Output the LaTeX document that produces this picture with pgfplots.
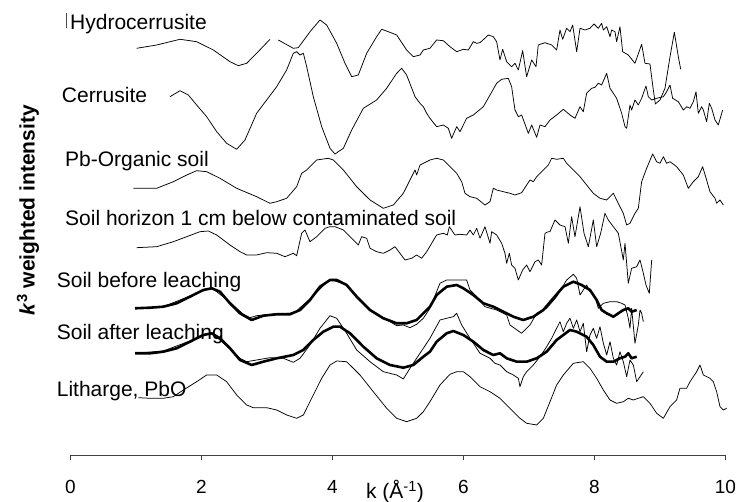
\documentclass[border=0pt]{standalone}
\usepackage{fontspec}
\setmainfont{Liberation Sans}
\usepackage{pgfplots}
\pgfplotsset{compat=1.18}
\begin{document}
\begin{tikzpicture}
\begin{axis}[
  scale only axis, width=655pt, height=455pt,
  xmin=0, xmax=10, ymin=0, ymax=455,
  axis x line=bottom, axis y line=left,
  axis line style={-, line width=0.8pt, black!75},
  y axis line style={draw=none},
  xtick={0,2,4,6,8,10}, ytick=\empty,
  tick align=outside, major tick length=5pt,
  tick style={line width=0.8pt, black!75},
  /pgf/number format/assume math mode=true,
  xticklabel style={font=\fontsize{19}{19}\selectfont, inner sep=0pt, anchor=north, yshift=-20pt},
  xlabel={k (Å\textsuperscript{-1})},
  xlabel style={font=\fontsize{21}{21}\selectfont, at={(axis description cs:0.4954,0)}, anchor=center, yshift=-37pt, inner sep=0pt},
  ylabel={\textbf{\textit{k}\textsuperscript{3} weighted intensity}},
  ylabel style={font=\fontsize{21}{21}\selectfont, at={(axis description cs:0,0.538)}, anchor=center, yshift=42.5pt, inner sep=0pt},
  clip=false,
  cycle list={{black, line width=0.75pt, line join=round, mark=none}},
  thn/.style={black, line width=0.75pt, line join=round, mark=none},
  thk/.style={black, line width=2.6pt, line join=round, mark=none},
]
% Hydrocerrusite
\addplot[thn] coordinates {(1.010,406.7) (1.316,410) (1.672,415.7) (1.926,413.3) (2.181,405) (2.435,393.3) (2.562,389.3) (2.690,391.7) (2.842,401.7) (3.046,415.7)};
\addplot[thn] coordinates {(3.173,415) (3.402,406.7) (3.478,407.3) (3.657,423.3) (3.809,435) (3.911,430) (4.064,411.7) (4.191,391.7) (4.293,378.3) (4.394,380) (4.522,401.7) (4.674,418.3) (4.751,425.7) (4.852,423.3) (4.980,420) (5.132,405) (5.234,398.3) (5.336,400) (5.387,405) (5.488,406.7)
 (5.590,415) (5.692,414.3) (5.794,408.3) (5.896,403.3) (5.997,405.7) (6.074,405) (6.150,413.3) (6.201,411.7) (6.252,412.3) (6.379,420) (6.455,418.3) (6.506,413.3) (6.557,395) (6.598,405.7) (6.659,393.3) (6.735,388.3) (6.786,391.7) (6.837,385) (6.903,404.3) (6.964,378.3) (7.041,395) (7.107,388.3) (7.142,410) (7.244,412.3) (7.346,410) (7.422,405) (7.473,425) (7.514,415.7) (7.575,426.7) (7.626,423.3) (7.667,430) (7.728,403.3) (7.779,426.7) (7.855,425) (7.931,426.7) (7.992,431) (8.033,428.3) (8.058,426.7) (8.109,431.7) (8.135,425) (8.186,428.3) (8.237,418.3) (8.262,425) (8.313,423.3) (8.338,413.3) (8.389,428.3) (8.430,403.3) (8.516,400) (8.618,391.7) (8.720,410.7) (8.771,391.7) (8.847,391) (8.888,370) (8.929,351) (9.000,355) (9.076,366.7) (9.153,398.3) (9.219,422.7) (9.280,398.3) (9.316,385.7)};
% Cerrusite
\addplot[thn] coordinates {(1.519,358.3) (1.672,364.3) (1.799,360) (1.926,350) (2.079,338.3) (2.232,323.3) (2.384,311.7) (2.537,305.7) (2.664,315) (2.842,341.7) (2.995,355) (3.148,368.3) (3.300,385) (3.402,401.7) (3.453,403.3) (3.504,400) (3.555,401.7) (3.606,388.3) (3.707,358.3) (3.835,328.3) (3.962,306.7) (4.038,301) (4.166,306.7) (4.293,325) (4.471,346.7) (4.674,355) (4.827,366.7) (4.980,381.7) (5.056,386.7) (5.132,380) (5.260,358.3) (5.336,351.7) (5.387,348.3) (5.438,341.7) (5.488,336.7)
 (5.590,328.3) (5.692,330) (5.768,326.7) (5.819,316.7) (5.896,328.3) (5.947,323.3) (6.048,336.7) (6.150,340) (6.303,348.3) (6.405,360) (6.506,371.7) (6.583,375.7) (6.684,376.7) (6.735,368.3) (6.786,345) (6.837,338.3) (6.888,340) (6.990,321.7) (7.041,330) (7.117,317.7) (7.168,330) (7.244,328.3) (7.321,335) (7.422,340) (7.524,345.7) (7.626,340) (7.702,336.7) (7.779,348.3) (7.829,343.3) (7.880,361.7) (7.957,366.7) (8.008,367.7) (8.058,371.7) (8.109,370) (8.186,381.7) (8.237,366.7) (8.338,356.7) (8.415,341.7) (8.466,328.3) (8.491,326.7) (8.542,350) (8.567,345) (8.618,355) (8.669,350) (8.720,356.7) (8.786,369) (8.822,358.3) (8.873,355) (8.949,356.7) (9.051,358.3) (9.102,363.3) (9.153,370) (9.193,356.7) (9.280,353.3) (9.356,345) (9.407,348.3) (9.458,346.7) (9.509,353.3) (9.550,363.3) (9.585,341.7) (9.636,348.3) (9.662,345) (9.712,333.3) (9.753,351.7) (9.789,346.7) (9.840,335) (9.890,330) (9.957,345)};
% Pb-Organic soil
\addplot[thn] coordinates {(0.959,266.7) (1.316,266.7) (1.570,273.3) (1.774,280) (1.926,284.3) (2.079,283.3) (2.282,276.7) (2.537,266.7) (2.842,258.3) (3.046,251.7) (3.148,253.3) (3.300,256.7) (3.453,268.3) (3.529,281.7) (3.606,285) (3.758,295) (3.936,296.7) (4.013,295) (4.166,285) (4.369,268.3) (4.573,255) (4.776,246.7) (4.929,250) (5.081,261.7) (5.209,278.3) (5.260,285) (5.285,280) (5.336,290) (5.438,293.3) (5.488,295)
 (5.590,296.7) (5.692,295) (5.794,288.3) (5.896,281.7) (5.972,273.3) (6.023,261.7) (6.099,258.3) (6.201,256.7) (6.328,250) (6.405,253.3) (6.455,266.7) (6.506,265) (6.608,263.3) (6.710,261.7) (6.786,260) (6.888,262.3) (6.964,270) (7.015,275) (7.066,273.3) (7.117,278.3) (7.219,285) (7.295,290) (7.346,296.7) (7.422,295.7) (7.524,296.7) (7.575,291.7) (7.677,285) (7.779,278.3) (7.880,270) (7.982,261.7) (8.084,256.7) (8.186,255) (8.288,261.7) (8.338,255) (8.389,248.3) (8.440,241.7) (8.491,230) (8.542,231.7) (8.618,241.7) (8.669,246.7) (8.720,273.3) (8.796,286.7) (8.888,301) (8.949,293.3) (9.000,291.7) (9.051,298.3) (9.102,291.7) (9.153,293.3) (9.254,288.3) (9.356,280) (9.432,266.7) (9.509,273.3) (9.585,278.3) (9.651,288.3) (9.712,275) (9.763,263.3) (9.840,256.7) (9.865,251.7) (9.916,255) (9.967,250)};
% Soil horizon 1 cm below
\addplot[thn] coordinates {(1.010,207.3) (1.316,208.3) (1.570,213.3) (1.774,218.3) (1.977,223.3) (2.104,224) (2.232,220) (2.435,210) (2.588,203.3) (2.690,200) (2.842,200) (2.995,202.3) (3.148,201.7) (3.275,198.3) (3.402,201.7) (3.453,199.3) (3.529,221.7) (3.580,225) (3.656,213.3) (3.758,218.3) (3.886,226.7) (3.962,228.3) (4.038,228.3) (4.166,225) (4.242,220) (4.318,215) (4.394,210) (4.445,218.3) (4.522,216.7) (4.573,206.7) (4.674,203.3) (4.776,201.7) (4.878,205) (4.954,208.3) (5.030,201.7) (5.107,195) (5.209,196.7) (5.285,200) (5.361,196.7) (5.438,203.3) (5.514,211.7) (5.590,220) (5.692,221.7) (5.753,220) (5.784,228.3) (5.835,223.3) (5.870,220) (5.946,220.7) (6.048,220) (6.099,225) (6.150,220) (6.201,226.7) (6.252,216.7) (6.328,228.3) (6.405,211.7) (6.430,223.3) (6.506,220) (6.583,211.7) (6.633,201.7) (6.659,191.7) (6.700,201.7) (6.735,190) (6.786,186.7) (6.837,175) (6.903,185) (6.964,190) (7.015,183.3) (7.092,193.3) (7.142,195) (7.193,190) (7.244,221.7) (7.295,223.3) (7.320,223.3) (7.397,235) (7.473,230) (7.550,228.3) (7.601,211.7) (7.651,238.3) (7.702,218.3) (7.779,248.3) (7.840,221.7) (7.906,208.3) (7.982,235) (8.033,208.3) (8.094,221.7) (8.160,241.7) (8.211,235) (8.288,228.3) (8.364,221.7) (8.440,195) (8.466,211.7) (8.516,171.7) (8.567,186.7) (8.644,188.3) (8.695,195) (8.746,181.7) (8.786,170) (8.837,161.7) (8.873,195)};
% Soil before leaching: data (thin)
\addplot[thn] coordinates {(0.985,146.7) (1.417,148.3) (1.824,159) (2.155,167.3) (2.435,152.7) (2.639,140.7) (2.741,137.3) (2.842,139.3) (3.148,141.3) (3.351,141.7) (3.453,144) (3.504,147.3) (3.656,156) (3.962,175.7) (4.216,170) (4.573,145) (4.878,133.3) (4.980,129.3) (5.081,130) (5.183,127.3) (5.285,130.7) (5.387,136.7) (5.488,146.7) (5.641,171.7) (5.743,175) (5.896,175) (6.048,175) (6.099,165) (6.201,158.3) (6.328,148.3) (6.506,145) (6.659,140) (6.710,130) (6.888,121.7) (7.015,130) (7.117,141.7) (7.270,146.7) (7.422,158.3) (7.575,175) (7.677,180.7) (7.728,176.7) (7.779,160) (7.829,165) (7.880,170) (7.931,163.3) (8.008,158.3) (8.058,146.7) (8.135,151.7) (8.237,153.3) (8.338,153.3) (8.415,151.7) (8.466,150) (8.516,136.7) (8.542,126.7) (8.567,146.7) (8.618,111.7) (8.669,130) (8.695,145) (8.720,141.7) (8.746,133.3)};
% Soil before leaching: fit (thick)
\addplot[thk] coordinates {(0.985,146.7) (1.214,147.3) (1.417,148.3) (1.621,151.7) (1.824,158.3) (2.028,165) (2.155,166.7) (2.282,163.3) (2.435,151.7) (2.588,141.7) (2.766,135) (2.944,139.3) (3.148,140.7) (3.351,140.7) (3.504,145) (3.656,155) (3.809,168.3) (3.962,175) (4.064,175) (4.216,170) (4.369,158.3) (4.573,145) (4.776,136.7) (4.980,131.7) (5.132,131.7) (5.285,135) (5.488,148.3) (5.590,160) (5.743,168.3) (5.896,170) (5.997,166.7) (6.150,160) (6.303,151.7) (6.455,148.3) (6.608,143.3) (6.761,138.3) (6.913,135) (7.066,138.3) (7.219,145) (7.371,156.7) (7.524,168.3) (7.677,173.3) (7.804,170) (7.931,165) (8.033,155) (8.109,145) (8.186,141.7) (8.288,138.3) (8.364,141.7) (8.440,145) (8.516,146.7) (8.567,143.3) (8.644,145)};
% Soil after leaching: data (thin)
\addplot[thn] coordinates {(0.985,101.7) (1.417,104) (1.824,114) (2.155,122.3) (2.435,106) (2.588,96.7) (2.690,93.3) (2.842,95) (3.046,97.3) (3.250,96.7) (3.402,92.7) (3.504,96.7) (3.656,110) (3.809,126.7) (3.962,139.3) (4.064,136.7) (4.216,121.7) (4.369,105) (4.573,93.3) (4.776,83.3) (4.980,80) (5.081,76) (5.183,86.7) (5.285,96.7) (5.387,106.7) (5.488,116.7) (5.641,135) (5.743,136.7) (5.845,138.3) (5.896,141.7) (5.972,130) (6.099,116.7) (6.252,101.7) (6.405,96.7) (6.481,91.7) (6.557,90) (6.659,83.3) (6.761,80) (6.837,76.7) (6.862,68.3) (6.913,78.3) (6.964,83.3) (7.066,90) (7.168,98.3) (7.270,108.3) (7.346,116.7) (7.422,126.7) (7.473,133.3) (7.524,123.3) (7.575,131.7) (7.626,136.7) (7.677,126.7) (7.728,135) (7.779,123.3) (7.829,131.7) (7.880,103.3) (7.931,120) (7.982,126.7) (8.033,116.7) (8.084,128.3) (8.135,111.7) (8.186,100) (8.237,113.3) (8.288,96.7) (8.338,90) (8.389,103.3) (8.440,93.3) (8.491,78.3) (8.542,95) (8.593,90) (8.644,73.3) (8.695,78.3) (8.746,83.3)};
% Soil after leaching: fit (thick)
\addplot[thk] coordinates {(0.985,101.7) (1.214,101.7) (1.417,103.3) (1.621,106.7) (1.824,113.3) (2.028,120) (2.155,121.7) (2.282,116.7) (2.435,106.7) (2.588,95) (2.766,90) (2.944,93.3) (3.148,96.7) (3.402,100) (3.555,105) (3.707,115) (3.860,123.3) (4.013,128.3) (4.115,128.3) (4.267,121.7) (4.471,108.3) (4.674,96.7) (4.878,90) (5.081,87.3) (5.234,90) (5.387,98.3) (5.488,103.3) (5.590,113.3) (5.743,121.7) (5.845,124) (5.997,120) (6.150,113.3) (6.303,105) (6.455,100) (6.557,101.7) (6.659,96.7) (6.812,93.3) (6.964,93.3) (7.117,96.7) (7.270,103.3) (7.422,115) (7.524,120) (7.626,125) (7.728,123.3) (7.880,118.3) (7.982,110) (8.084,98.3) (8.186,93.3) (8.288,93.3) (8.389,96.7) (8.466,98.3) (8.516,101.7) (8.567,96.7) (8.644,98.3)};
% Litharge, PbO
\addplot[thn] coordinates {(1.036,57.3) (1.214,56.7) (1.417,56.7) (1.570,58.3) (1.723,65) (1.926,73.3) (2.079,80) (2.232,80) (2.384,73.3) (2.537,60) (2.690,50) (2.791,47.3) (2.995,47.3) (3.148,45) (3.300,40) (3.453,36.7) (3.555,40) (3.682,56.7) (3.835,76.7) (3.962,90) (4.064,94) (4.216,93.3) (4.420,80) (4.623,63.3) (4.827,46.7) (4.980,36.7) (5.132,33.3) (5.285,36.7) (5.387,43.3) (5.488,53.3) (5.641,70) (5.794,80.7) (5.896,83.3) (5.997,83.3) (6.099,78.3) (6.252,68.3) (6.405,63.3) (6.557,56.7) (6.710,46.7) (6.862,36.7) (6.964,31.7) (7.117,30) (7.219,36.7) (7.321,53.3) (7.422,70) (7.524,80) (7.677,91.7) (7.829,93.3) (7.931,86.7) (8.033,76.7) (8.135,65) (8.237,55) (8.338,51.7) (8.440,53.3) (8.516,56.7) (8.593,55) (8.669,56.7) (8.746,58.3) (8.847,51.7) (8.949,41.7) (9.051,36.7) (9.153,48.3) (9.254,55) (9.305,66.7) (9.407,66.7) (9.458,73.3) (9.560,83.3) (9.611,90) (9.662,80) (9.763,76.7) (9.814,73.3) (9.865,63.3) (9.916,48.3) (9.967,45) (10.017,46.7)};
% curve labels
\begin{scope}[every node/.style={font=\fontsize{21}{21}\selectfont, inner sep=0pt, anchor=base west}]
\node at (axis cs:-0.008,425) {Hydrocerrusite};
\node at (axis cs:-0.134,352) {Cerrusite};
\node at (axis cs:-0.084,288) {Pb-Organic soil};
\node at (axis cs:-0.084,229) {Soil horizon 1 cm below contaminated soil};
\node at (axis cs:-0.211,167) {Soil before leaching};
\node at (axis cs:-0.211,115) {Soil after leaching};
\node at (axis cs:-0.211,58) {Litharge, PbO};
\end{scope}
\draw[line width=0.4pt, black!70] (axis cs:-0.058,427) -- (axis cs:-0.058,442);
\coordinate (bbl) at (axis cs:-1.0763,-47);
\coordinate (bbr) at (axis cs:10.191,455);
\end{axis}
\pgfresetboundingbox
\path[use as bounding box] (bbl) rectangle (bbr);
\end{tikzpicture}
\end{document}
